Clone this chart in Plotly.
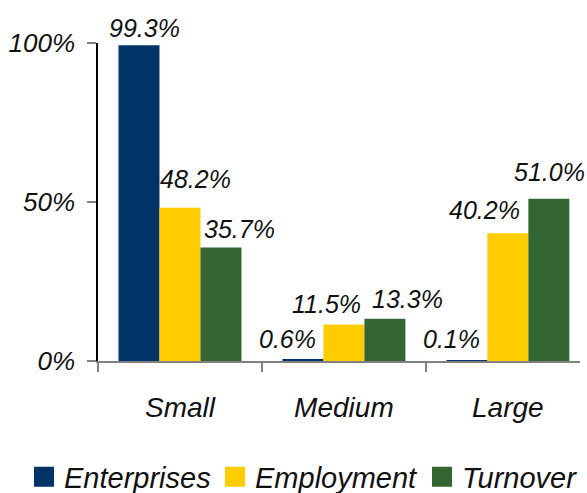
import plotly.graph_objects as go

# ---- data ----
categories = ["Small", "Medium", "Large"]
series_names = ["Enterprises", "Employment", "Turnover"]
enterprises = [99.3, 0.6, 0.1]
employment = [48.2, 11.5, 40.2]
turnover = [35.7, 13.3, 51.0]
y_tickvals = [0, 50, 100]
y_ticktext = ["0%", "50%", "100%"]

# ---- style ----
colors = ["#003366", "#FFCC00", "#336633"]
FONT = "Liberation Sans"
W, H = 587, 493
M_L, M_R, M_T, M_B = 98, 7, 43, 132
X_RANGE = [-0.5, 2.44]
BARGAP = 0.25
# label nudges (pixels) per series, per category
label_dx = [[6, -15, -15], [16, -17, -23], [19, 23, 1]]
label_dy = [[17, 20, 22], [29, 20, 23], [18, 20, 27]]
legend_x_px = [24, 215, 422]
legend_y_px = 477

values = [enterprises, employment, turnover]
legend_ids = ["legend", "legend2", "legend3"]

fig = go.Figure()
for name, vals, col in zip(series_names, values, colors):
    fig.add_trace(go.Bar(x=categories, y=vals, name=name, marker_color=col,
                         marker_line_width=0, showlegend=False, hoverinfo="skip"))
# legend entries (square markers), one legend per entry for exact placement
for name, col, lid in zip(series_names, colors, legend_ids):
    fig.add_trace(go.Scatter(x=[None], y=[None], mode="markers", name=name,
                             marker=dict(symbol="square", size=16, color=col,
                                         line=dict(width=4, color=col)),
                             showlegend=True, legend=lid))

# annotations for data labels
plot_w = W - M_L - M_R
px_per_cat = plot_w / (X_RANGE[1] - X_RANGE[0])
bar_w = px_per_cat * (1 - BARGAP) / len(series_names)
ann = []
for k, vals in enumerate(values):
    off = (k - (len(series_names) - 1) / 2) * bar_w
    for i, (c, v) in enumerate(zip(categories, vals)):
        ann.append(dict(x=c, y=v, xref="x", yref="y", text=f"{v:.1f}%",
                        showarrow=False, xanchor="center", yanchor="middle",
                        borderpad=0,
                        xshift=off + label_dx[k][i], yshift=label_dy[k][i],
                        font=dict(family=FONT, size=25, style="italic", color="#111111")))

legend_font = dict(family=FONT, size=29, style="italic", color="#111111")
legends = {}
for lid, lx in zip(legend_ids, legend_x_px):
    legends[lid] = dict(orientation="h", xref="container", yref="container",
                        x=lx / W, xanchor="left", y=1 - legend_y_px / H, yanchor="middle",
                        font=legend_font, bgcolor="rgba(0,0,0,0)",
                        itemclick=False, itemdoubleclick=False)

fig.update_layout(
    width=W, height=H,
    margin=dict(l=M_L, r=M_R, t=M_T, b=M_B, pad=0, autoexpand=False),
    paper_bgcolor="white", plot_bgcolor="white",
    barmode="group", bargap=BARGAP, bargroupgap=0,
    annotations=ann,
    showlegend=True,
    hovermode=False,
    **legends,
    xaxis=dict(range=X_RANGE, showgrid=False, zeroline=False, automargin=False,
               showline=True, linecolor="#808080", linewidth=1.5,
               ticks="outside", tickson="boundaries", ticklen=9, tickcolor="#808080",
               tickwidth=1.5, ticklabelstandoff=21,
               tickfont=dict(family=FONT, size=28, style="italic", color="#111111")),
    yaxis=dict(range=[0, 100], showgrid=False, zeroline=False, automargin=False,
               showline=True, linecolor="#000000", linewidth=1.5,
               tickvals=y_tickvals, ticktext=y_ticktext,
               ticks="outside", ticklen=9, tickcolor="#808080", tickwidth=1.5,
               ticklabelstandoff=7,
               tickfont=dict(family=FONT, size=26, style="italic", color="#111111")),
)

fig.write_html("out.html", config={"displayModeBar": False},
               post_script="document.body.style.margin='0';document.body.style.overflow='hidden';")
